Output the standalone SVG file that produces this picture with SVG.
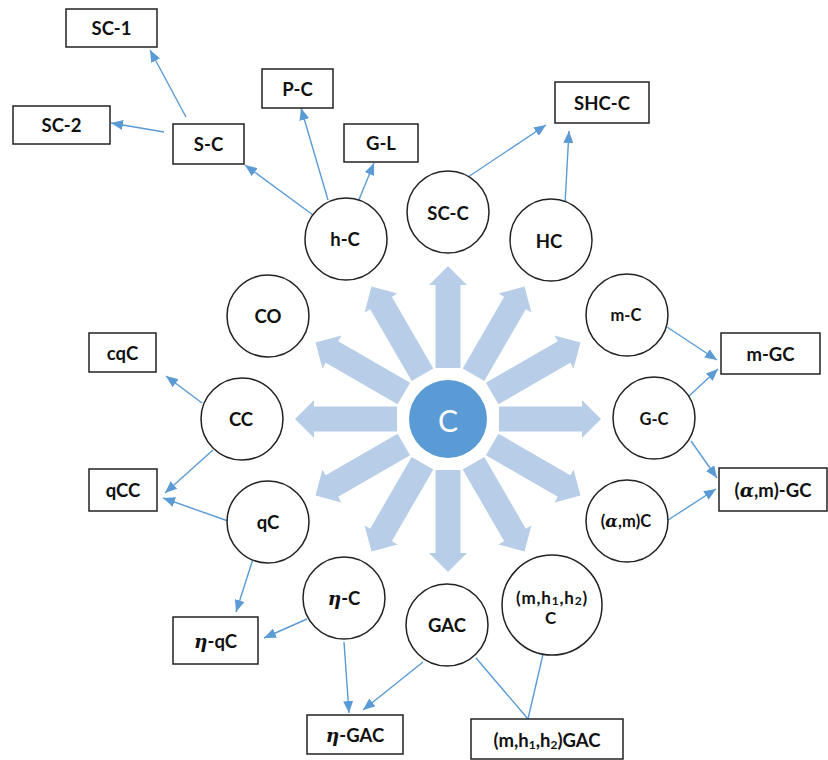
<svg xmlns="http://www.w3.org/2000/svg" width="828" height="760" viewBox="0 0 828 760">
<defs>
<style>
.box{fill:#fff;stroke:#222;stroke-width:1.5}
.node{fill:#fff;stroke:#222;stroke-width:1.5}
.t{font-family:Lato,"Open Sans","Liberation Sans",sans-serif;font-weight:bold;font-size:18.5px;fill:#111;text-anchor:middle;dominant-baseline:central}
.t.s{font-size:16.5px}
.t.xs{font-size:17px;letter-spacing:0.8px}
.m{font-style:italic;font-family:"DejaVu Serif","Liberation Serif",serif}
.ln{stroke:#5B9BD5;stroke-width:1.4;fill:none}
.ar{marker-end:url(#ah)}
.big{fill:#B7CDE8}
</style>
<marker id="ah" viewBox="0 0 12 10" refX="12" refY="5" markerWidth="12" markerHeight="10" markerUnits="userSpaceOnUse" orient="auto">
<path d="M0,0 L12,5 L0,10 Z" fill="#5B9BD5"/>
</marker>
<polygon id="bigArrow" points="-12.5,-51 -12.5,-134 -19,-134 0,-153 19,-134 12.5,-134 12.5,-51"/>
</defs>

<g id="center">
<g class="big" transform="translate(448,419)">
<use href="#bigArrow" transform="rotate(0)"/>
<use href="#bigArrow" transform="rotate(30)"/>
<use href="#bigArrow" transform="rotate(60)"/>
<use href="#bigArrow" transform="rotate(90)"/>
<use href="#bigArrow" transform="rotate(120)"/>
<use href="#bigArrow" transform="rotate(150)"/>
<use href="#bigArrow" transform="rotate(180)"/>
<use href="#bigArrow" transform="rotate(210)"/>
<use href="#bigArrow" transform="rotate(240)"/>
<use href="#bigArrow" transform="rotate(270)"/>
<use href="#bigArrow" transform="rotate(300)"/>
<use href="#bigArrow" transform="rotate(330)"/>
</g>
<circle cx="448" cy="419" r="39" fill="#5B9BD5"/>
<text x="448" y="420" style="font-family:Lato,'Open Sans','Liberation Sans',sans-serif;font-size:30px;fill:#fff;text-anchor:middle;dominant-baseline:central">C</text>
</g>

<g id="connectors">
<line class="ln ar" x1="186" y1="117" x2="150" y2="50"/>
<line class="ln ar" x1="164" y1="132" x2="111" y2="123"/>
<line class="ln ar" x1="313" y1="215" x2="245" y2="165"/>
<line class="ln ar" x1="328" y1="200" x2="301" y2="108"/>
<line class="ln ar" x1="358" y1="202" x2="374" y2="163"/>
<line class="ln ar" x1="468" y1="177" x2="546" y2="125"/>
<line class="ln ar" x1="565" y1="204" x2="569" y2="131"/>
<line class="ln ar" x1="667" y1="327" x2="717" y2="360"/>
<line class="ln ar" x1="688" y1="397" x2="718" y2="369"/>
<line class="ln ar" x1="691" y1="441" x2="717" y2="478"/>
<line class="ln ar" x1="668" y1="520" x2="716" y2="489"/>
<line class="ln ar" x1="202" y1="403" x2="166" y2="376"/>
<line class="ln ar" x1="213" y1="450" x2="165" y2="493"/>
<line class="ln ar" x1="228" y1="521" x2="163" y2="498"/>
<line class="ln ar" x1="253" y1="559" x2="236" y2="612"/>
<line class="ln ar" x1="307" y1="619" x2="264" y2="638"/>
<line class="ln ar" x1="344" y1="642" x2="349" y2="713"/>
<line class="ln ar" x1="423" y1="662" x2="363" y2="710"/>
<line class="ln" x1="476" y1="658" x2="528" y2="719"/>
<line class="ln" x1="547" y1="637" x2="528" y2="719"/>
</g>

<g id="n-SC-1"><rect class="box" x="66" y="9" width="91" height="38"/><text class="t" x="111.5" y="28">SC-1</text></g>
<g id="n-SC-2"><rect class="box" x="13" y="106" width="97" height="38"/><text class="t" x="61.5" y="125">SC-2</text></g>
<g id="n-S-C"><rect class="box" x="173" y="124" width="71" height="40"/><text class="t" x="208.5" y="144">S-C</text></g>
<g id="n-P-C"><rect class="box" x="262" y="69" width="71" height="39"/><text class="t" x="297.5" y="89">P-C</text></g>
<g id="n-G-L"><rect class="box" x="344" y="124" width="74" height="38"/><text class="t" x="381" y="143">G-L</text></g>
<g id="n-SHC-C"><rect class="box" x="555" y="82" width="94" height="41"/><text class="t" x="602" y="103">SHC-C</text></g>
<g id="n-m-GC"><rect class="box" x="721" y="333" width="99" height="41"/><text class="t" x="770.5" y="354">m-GC</text></g>
<g id="n-am-GC"><rect class="box" x="719" y="468" width="108" height="43"/><text class="t" x="773" y="490">(<tspan class="m">α</tspan>,m)-GC</text></g>
<g id="n-cqC"><rect class="box" x="89" y="333" width="67" height="39"/><text class="t" x="122.5" y="353">cqC</text></g>
<g id="n-qCC"><rect class="box" x="89" y="469" width="68" height="42"/><text class="t" x="123" y="490">qCC</text></g>
<g id="n-eta-qC"><rect class="box" x="173" y="617" width="85" height="47"/><text class="t" x="215.5" y="641"><tspan class="m">η</tspan>-qC</text></g>
<g id="n-eta-GAC"><rect class="box" x="307" y="715" width="96" height="39"/><text class="t" x="355" y="735"><tspan class="m">η</tspan>-GAC</text></g>
<g id="n-mhh-GAC"><rect class="box" x="471" y="719" width="152" height="40"/><text class="t" x="547" y="740">(m,h<tspan font-size="12" dy="4">1</tspan><tspan dy="-4">,h</tspan><tspan font-size="12" dy="4">2</tspan><tspan dy="-4">)GAC</tspan></text></g>

<g id="c-SC-C"><circle class="node" cx="448" cy="212" r="41"/><text class="t" x="448" y="213">SC-C</text></g>
<g id="c-HC"><circle class="node" cx="551" cy="240" r="41"/><text class="t" x="549" y="241">HC</text></g>
<g id="c-m-C"><circle class="node" cx="627" cy="315" r="41"/><text class="t s" x="626" y="315">m-C</text></g>
<g id="c-G-C"><circle class="node" cx="654" cy="418" r="41"/><text class="t s" x="654" y="419">G-C</text></g>
<g id="c-amC"><circle class="node" cx="627" cy="521" r="41"/><text class="t s" x="626" y="521">(<tspan class="m">α</tspan>,m)C</text></g>
<g id="c-mhhC"><circle class="node" cx="552" cy="605" r="50"/><text class="t xs" x="552" y="597">(m,h<tspan font-size="12" dy="3">1</tspan><tspan dy="-3">,h</tspan><tspan font-size="12" dy="3">2</tspan><tspan dy="-3">)</tspan></text><text class="t xs" x="551" y="617">C</text></g>
<g id="c-GAC"><circle class="node" cx="447" cy="625" r="41"/><text class="t" x="447" y="625">GAC</text></g>
<g id="c-eta-C"><circle class="node" cx="344" cy="598" r="41"/><text class="t" x="344" y="598"><tspan class="m">η</tspan>-C</text></g>
<g id="c-qC"><circle class="node" cx="268" cy="522" r="41"/><text class="t" x="268" y="522">qC</text></g>
<g id="c-CC"><circle class="node" cx="242" cy="419" r="41"/><text class="t" x="241" y="419">CC</text></g>
<g id="c-CO"><circle class="node" cx="268" cy="316" r="41"/><text class="t" x="268" y="316">CO</text></g>
<g id="c-h-C"><circle class="node" cx="346" cy="239" r="41"/><text class="t" x="345" y="239">h-C</text></g>
</svg>
